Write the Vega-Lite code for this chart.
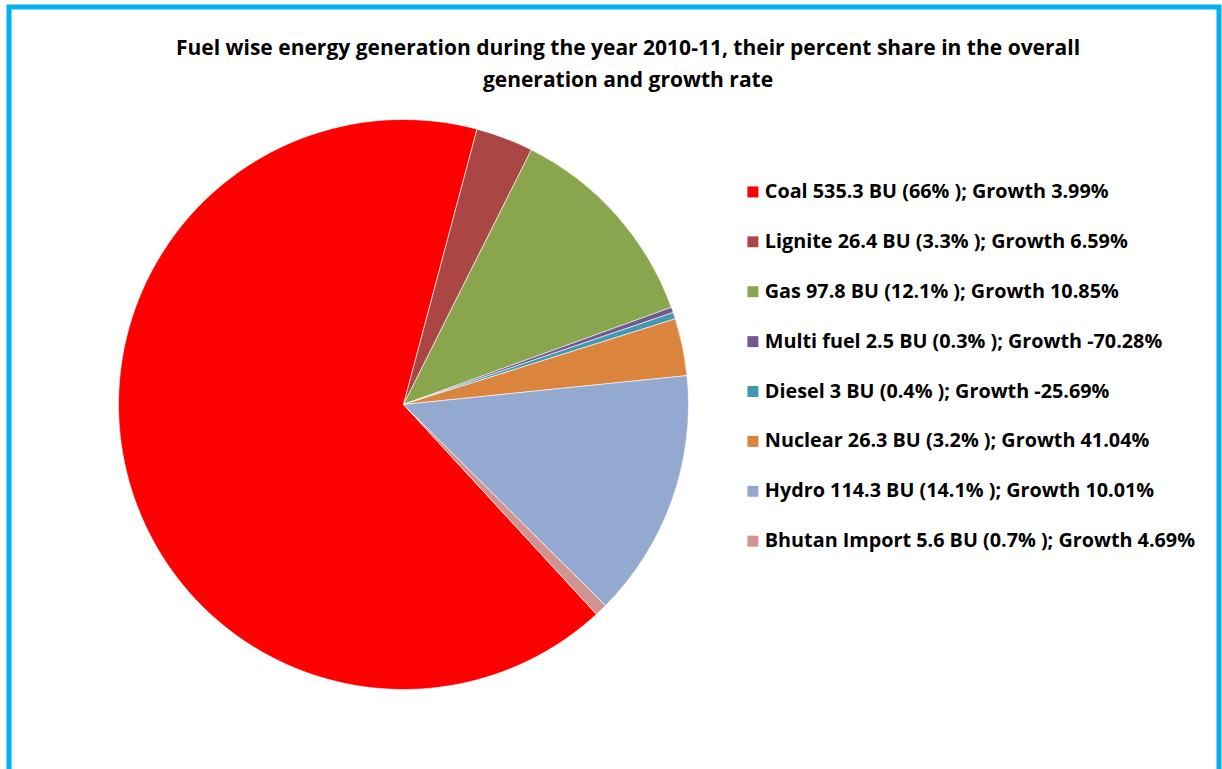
{
  "$schema": "https://vega.github.io/schema/vega-lite/v6.json",
  "autosize": "none",
  "width": 1210,
  "height": 780,
  "padding": {"left": 9, "top": 7, "right": 3, "bottom": 0},
  "background": "white",
  "config": {
    "view": {"stroke": null},
    "font": "Open Sans"
  },
  "title": {
    "text": ["Fuel wise energy generation during the year 2010-11, their percent share in the overall", "generation and growth rate"],
    "orient": "top",
    "anchor": "middle",
    "frame": "group",
    "dx": 14,
    "offset": -86,
    "font": "Open Sans",
    "fontSize": 21,
    "fontWeight": "bold",
    "color": "#000000",
    "lineHeight": 32
  },
  "layer": [
    {
      "data": {"values": [{"frame": "border"}]},
      "mark": {"type": "rect", "fill": null, "fillOpacity": 0, "stroke": "#00B0F0", "strokeWidth": 5},
      "encoding": {}
    },
    {
      "data": {
        "values": [
          {"idx": 1, "label": "Coal 535.3 BU (66% ); Growth 3.99%", "value": 535.3},
          {"idx": 2, "label": "Lignite 26.4 BU (3.3% ); Growth 6.59%", "value": 26.4},
          {"idx": 3, "label": "Gas  97.8 BU (12.1% ); Growth 10.85%", "value": 97.8},
          {"idx": 4, "label": "Multi fuel 2.5 BU (0.3% ); Growth -70.28%", "value": 2.5},
          {"idx": 5, "label": "Diesel 3 BU (0.4% ); Growth -25.69%", "value": 3},
          {"idx": 6, "label": "Nuclear 26.3 BU (3.2% ); Growth 41.04%", "value": 26.3},
          {"idx": 7, "label": "Hydro 114.3 BU (14.1% ); Growth 10.01%", "value": 114.3},
          {"idx": 8, "label": "Bhutan Import 5.6 BU (0.7% ); Growth 4.69%", "value": 5.6}
        ]
      },
      "mark": {"type": "arc", "x": 394.5, "y": 397.5, "outerRadius": 285, "stroke": "#ffffff", "strokeWidth": 0.6},
      "encoding": {
        "theta": {"field": "value", "type": "quantitative", "stack": true, "scale": {"range": [2.398, 8.681]}},
        "order": {"field": "idx", "type": "quantitative"},
        "color": {
          "field": "label",
          "type": "nominal",
          "sort": null,
          "scale": {
            "domain": [
              "Coal 535.3 BU (66% ); Growth 3.99%",
              "Lignite 26.4 BU (3.3% ); Growth 6.59%",
              "Gas  97.8 BU (12.1% ); Growth 10.85%",
              "Multi fuel 2.5 BU (0.3% ); Growth -70.28%",
              "Diesel 3 BU (0.4% ); Growth -25.69%",
              "Nuclear 26.3 BU (3.2% ); Growth 41.04%",
              "Hydro 114.3 BU (14.1% ); Growth 10.01%",
              "Bhutan Import 5.6 BU (0.7% ); Growth 4.69%"
            ],
            "range": ["#FF0000", "#AA4643", "#89A54E", "#71588F", "#4198AF", "#DB843D", "#93A9CF", "#D19392"]
          },
          "legend": {
            "orient": "none",
            "legendX": 734,
            "legendY": 175,
            "title": null,
            "symbolType": "square",
            "symbolSize": 120,
            "symbolStrokeWidth": 0,
            "labelFont": "Open Sans",
            "labelFontSize": 19.8,
            "labelFontWeight": "bold",
            "labelColor": "#000000",
            "labelLimit": 600,
            "labelOffset": 2,
            "rowPadding": 28.9,
            "padding": 0,
            "symbolOffset": 0
          }
        }
      }
    }
  ]
}
